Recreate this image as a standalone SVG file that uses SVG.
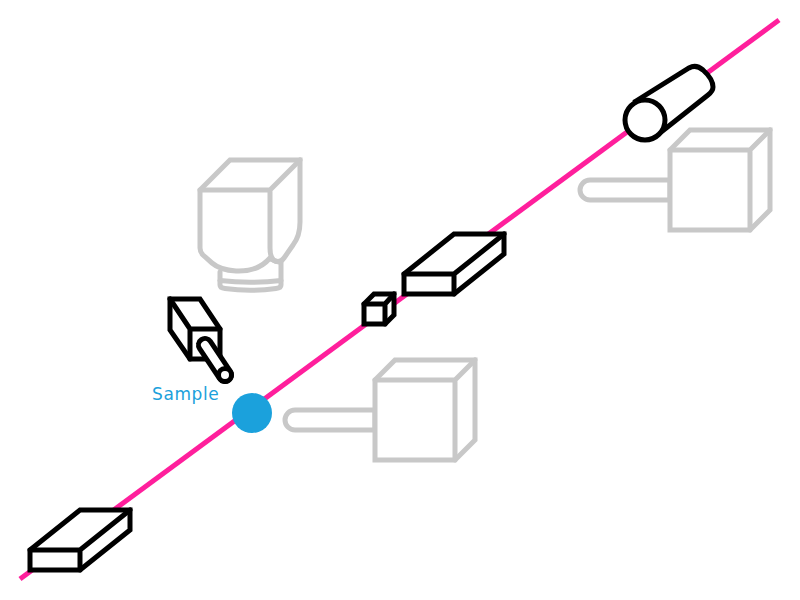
<svg xmlns="http://www.w3.org/2000/svg" width="800" height="600" viewBox="0 0 800 600">
<style>
.g{fill:#fff;stroke:#c8c8c8;stroke-width:5;stroke-linejoin:miter;stroke-linecap:round}
.k{fill:#fff;stroke:#000;stroke-width:5;stroke-linejoin:miter;stroke-linecap:round}
.n{fill:none}
</style>
<rect width="800" height="600" fill="#fff"/>
<g id="connectors"><line id="beam" x1="20" y1="579" x2="779" y2="20" stroke="#ff1f9c" stroke-width="5"/></g>
<g id="camera-top">
<path class="g" d="M295 410H375V430H295A10 10 0 0 1 295 410Z" transform="translate(295 -230)"/>
<path class="g" d="M670 150L690 130H770V210L750 230H670Z"/>
<path class="g n" d="M670 150H750V230M750 150L770 130"/>
</g>
<g id="camera-bottom">
<path class="g" d="M295 410H375V430H295A10 10 0 0 1 295 410Z"/>
<path class="g" d="M375 380L395 360H475V440L455 460H375Z"/>
<path class="g n" d="M375 380H455V460M455 380L475 360"/>
</g>
<g id="objective">
<path class="g" d="M220 272V285Q220 288 225 288.500Q250 292 276 288.500Q281 288 281 285V262"/>
<path class="g n" d="M220 280.500Q250 284 281 280.500"/>
<path class="g" d="M200 190L230 160H300V222Q300 236 293 245L284 258Q279 265 270 258Q258 272 236 271Q220 270 212 263L203 255Q200 252 200 248Z"/>
<path class="g n" d="M200 190H270L300 160M270 190V248Q270 262 279 262"/>
</g>
<g id="source-cylinder">
<path class="k" d="M636 101L689 68Q696 64 703 70Q713 79 713 87Q713 91 708 95L660 133Z"/>
<circle class="k" cx="645" cy="120" r="20"/>
</g>
<g id="slab-upper">
<path class="k" d="M404 274L454 234H504V254L454 294H404Z"/>
<path class="k n" d="M404 274H454V294M454 274L504 234"/>
</g>
<g id="cube">
<path class="k" d="M364 304L374 294H394V315L385 324H364Z"/>
<path class="k n" d="M364 304H385V324M385 304L394 294"/>
</g>
<g id="slab-lower">
<path class="k" d="M30 550L80 510H130V530L80 570H30Z"/>
<path class="k n" d="M30 550H80V570M80 550L130 510"/>
</g>
<g id="detector">
<path class="k" d="M170 299H200L220 329V359H190L170 330Z"/>
<path class="k n" d="M170 299L190 329H220M190 329V359"/>
<line x1="205" y1="345" x2="225" y2="375" stroke="#000" stroke-width="18" stroke-linecap="round"/>
<line x1="205" y1="345" x2="225" y2="375" stroke="#fff" stroke-width="8" stroke-linecap="round"/>
<circle class="k" cx="225" cy="375" r="6.500"/>
</g>
<g id="sample">
<circle cx="252" cy="413" r="20" fill="#1ba1dc"/>
<text x="152" y="400" font-family="'DejaVu Sans',sans-serif" font-size="17" letter-spacing="0.6" fill="#1ba1dc">Sample</text>
</g>
</svg>
